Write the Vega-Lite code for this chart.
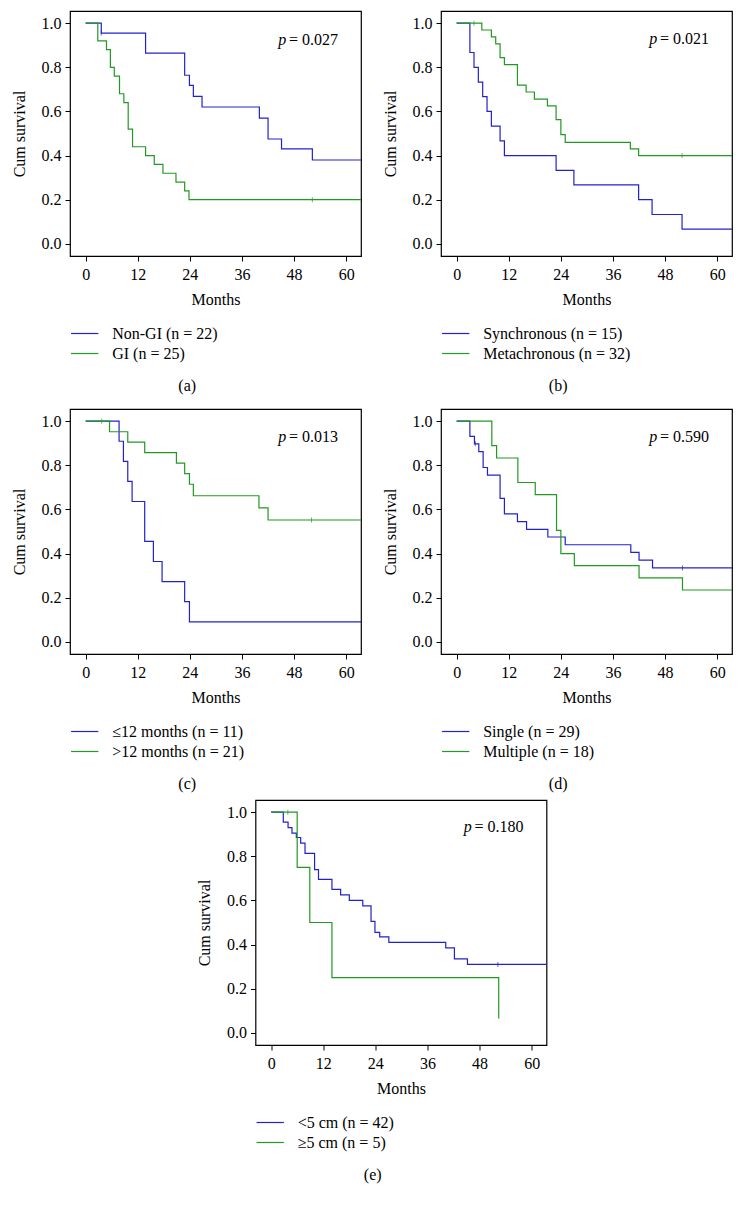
{
  "$schema": "https://vega.github.io/schema/vega-lite/v6.json",
  "padding": {"left": 10, "top": 10, "right": 0, "bottom": 0},
  "background": "white",
  "datasets": {
    "a": [
      {"g": "Non-GI (n = 22)", "t": 0, "s": 1}, {"g": "Non-GI (n = 22)", "t": 3.6, "s": 0.955}, {"g": "Non-GI (n = 22)", "t": 13.8, "s": 0.864}, {"g": "Non-GI (n = 22)", "t": 22.8, "s": 0.764}, {"g": "Non-GI (n = 22)", "t": 23.9, "s": 0.718}, {"g": "Non-GI (n = 22)", "t": 24.8, "s": 0.668}, {"g": "Non-GI (n = 22)", "t": 26.8, "s": 0.62}, {"g": "Non-GI (n = 22)", "t": 40, "s": 0.57}, {"g": "Non-GI (n = 22)", "t": 42, "s": 0.475}, {"g": "Non-GI (n = 22)", "t": 45.1, "s": 0.43}, {"g": "Non-GI (n = 22)", "t": 52.2, "s": 0.38}, {"g": "Non-GI (n = 22)", "t": 63.4, "s": 0.38},
      {"g": "GI (n = 25)", "t": 0, "s": 1}, {"g": "GI (n = 25)", "t": 2.8, "s": 0.92}, {"g": "GI (n = 25)", "t": 4.8, "s": 0.88}, {"g": "GI (n = 25)", "t": 5.7, "s": 0.8}, {"g": "GI (n = 25)", "t": 6.6, "s": 0.76}, {"g": "GI (n = 25)", "t": 7.8, "s": 0.68}, {"g": "GI (n = 25)", "t": 8.8, "s": 0.64}, {"g": "GI (n = 25)", "t": 9.8, "s": 0.52}, {"g": "GI (n = 25)", "t": 10.8, "s": 0.44}, {"g": "GI (n = 25)", "t": 13.8, "s": 0.4}, {"g": "GI (n = 25)", "t": 15.8, "s": 0.36}, {"g": "GI (n = 25)", "t": 17.8, "s": 0.32}, {"g": "GI (n = 25)", "t": 20.8, "s": 0.28}, {"g": "GI (n = 25)", "t": 22.8, "s": 0.24}, {"g": "GI (n = 25)", "t": 23.8, "s": 0.2}, {"g": "GI (n = 25)", "t": 63.4, "s": 0.2}
    ],
    "ac": [
      {"g": "Non-GI (n = 22)", "t": 3.6, "s": 0.955},
      {"g": "GI (n = 25)", "t": 52.2, "s": 0.2}
    ],
    "b": [
      {"g": "Synchronous (n = 15)", "t": 0, "s": 1}, {"g": "Synchronous (n = 15)", "t": 3.05, "s": 0.867}, {"g": "Synchronous (n = 15)", "t": 4, "s": 0.8}, {"g": "Synchronous (n = 15)", "t": 5, "s": 0.733}, {"g": "Synchronous (n = 15)", "t": 6, "s": 0.667}, {"g": "Synchronous (n = 15)", "t": 7, "s": 0.6}, {"g": "Synchronous (n = 15)", "t": 8, "s": 0.533}, {"g": "Synchronous (n = 15)", "t": 10, "s": 0.467}, {"g": "Synchronous (n = 15)", "t": 11, "s": 0.4}, {"g": "Synchronous (n = 15)", "t": 22.9, "s": 0.333}, {"g": "Synchronous (n = 15)", "t": 27, "s": 0.267}, {"g": "Synchronous (n = 15)", "t": 41.9, "s": 0.2}, {"g": "Synchronous (n = 15)", "t": 45, "s": 0.133}, {"g": "Synchronous (n = 15)", "t": 51.9, "s": 0.067}, {"g": "Synchronous (n = 15)", "t": 63.4, "s": 0.067},
      {"g": "Metachronous (n = 32)", "t": 0, "s": 1}, {"g": "Metachronous (n = 32)", "t": 5.8, "s": 0.969}, {"g": "Metachronous (n = 32)", "t": 8, "s": 0.938}, {"g": "Metachronous (n = 32)", "t": 9, "s": 0.906}, {"g": "Metachronous (n = 32)", "t": 10, "s": 0.844}, {"g": "Metachronous (n = 32)", "t": 11, "s": 0.8125}, {"g": "Metachronous (n = 32)", "t": 14, "s": 0.719}, {"g": "Metachronous (n = 32)", "t": 16, "s": 0.688}, {"g": "Metachronous (n = 32)", "t": 17.9, "s": 0.656}, {"g": "Metachronous (n = 32)", "t": 20.9, "s": 0.625}, {"g": "Metachronous (n = 32)", "t": 22.9, "s": 0.5625}, {"g": "Metachronous (n = 32)", "t": 24, "s": 0.495}, {"g": "Metachronous (n = 32)", "t": 25, "s": 0.46}, {"g": "Metachronous (n = 32)", "t": 40, "s": 0.43}, {"g": "Metachronous (n = 32)", "t": 41.9, "s": 0.4}, {"g": "Metachronous (n = 32)", "t": 63.4, "s": 0.4}
    ],
    "bc": [
      {"g": "Metachronous (n = 32)", "t": 4, "s": 1},
      {"g": "Metachronous (n = 32)", "t": 51.9, "s": 0.4}
    ],
    "c": [
      {"g": "≤12 months (n = 11)", "t": 0, "s": 1}, {"g": "≤12 months (n = 11)", "t": 7.7, "s": 0.909}, {"g": "≤12 months (n = 11)", "t": 8.7, "s": 0.818}, {"g": "≤12 months (n = 11)", "t": 9.7, "s": 0.727}, {"g": "≤12 months (n = 11)", "t": 10.7, "s": 0.636}, {"g": "≤12 months (n = 11)", "t": 13.6, "s": 0.455}, {"g": "≤12 months (n = 11)", "t": 15.6, "s": 0.364}, {"g": "≤12 months (n = 11)", "t": 17.6, "s": 0.273}, {"g": "≤12 months (n = 11)", "t": 22.8, "s": 0.182}, {"g": "≤12 months (n = 11)", "t": 23.9, "s": 0.091}, {"g": "≤12 months (n = 11)", "t": 63.4, "s": 0.091},
      {"g": ">12 months (n = 21)", "t": 0, "s": 1}, {"g": ">12 months (n = 21)", "t": 5.5, "s": 0.952}, {"g": ">12 months (n = 21)", "t": 9.7, "s": 0.905}, {"g": ">12 months (n = 21)", "t": 13.6, "s": 0.857}, {"g": ">12 months (n = 21)", "t": 20.9, "s": 0.81}, {"g": ">12 months (n = 21)", "t": 22.8, "s": 0.762}, {"g": ">12 months (n = 21)", "t": 23.9, "s": 0.714}, {"g": ">12 months (n = 21)", "t": 24.8, "s": 0.662}, {"g": ">12 months (n = 21)", "t": 39.9, "s": 0.607}, {"g": ">12 months (n = 21)", "t": 42, "s": 0.552}, {"g": ">12 months (n = 21)", "t": 63.4, "s": 0.552}
    ],
    "cc": [
      {"g": ">12 months (n = 21)", "t": 3.7, "s": 1},
      {"g": ">12 months (n = 21)", "t": 52, "s": 0.552}
    ],
    "d": [
      {"g": "Single (n = 29)", "t": 0, "s": 1}, {"g": "Single (n = 29)", "t": 3.05, "s": 0.931}, {"g": "Single (n = 29)", "t": 4.1, "s": 0.897}, {"g": "Single (n = 29)", "t": 5.1, "s": 0.862}, {"g": "Single (n = 29)", "t": 6.1, "s": 0.79}, {"g": "Single (n = 29)", "t": 7.1, "s": 0.755}, {"g": "Single (n = 29)", "t": 10, "s": 0.65}, {"g": "Single (n = 29)", "t": 11, "s": 0.58}, {"g": "Single (n = 29)", "t": 14, "s": 0.545}, {"g": "Single (n = 29)", "t": 16.1, "s": 0.51}, {"g": "Single (n = 29)", "t": 21, "s": 0.475}, {"g": "Single (n = 29)", "t": 25, "s": 0.44}, {"g": "Single (n = 29)", "t": 40.1, "s": 0.405}, {"g": "Single (n = 29)", "t": 42, "s": 0.37}, {"g": "Single (n = 29)", "t": 45.1, "s": 0.335}, {"g": "Single (n = 29)", "t": 63.4, "s": 0.335},
      {"g": "Multiple (n = 18)", "t": 0, "s": 1}, {"g": "Multiple (n = 18)", "t": 8.1, "s": 0.889}, {"g": "Multiple (n = 18)", "t": 9.2, "s": 0.833}, {"g": "Multiple (n = 18)", "t": 14.1, "s": 0.722}, {"g": "Multiple (n = 18)", "t": 18.1, "s": 0.667}, {"g": "Multiple (n = 18)", "t": 23, "s": 0.505}, {"g": "Multiple (n = 18)", "t": 24, "s": 0.4}, {"g": "Multiple (n = 18)", "t": 27.1, "s": 0.345}, {"g": "Multiple (n = 18)", "t": 42, "s": 0.29}, {"g": "Multiple (n = 18)", "t": 52, "s": 0.235}, {"g": "Multiple (n = 18)", "t": 63.4, "s": 0.235}
    ],
    "dc": [
      {"g": "Single (n = 29)", "t": 4.3, "s": 0.897},
      {"g": "Single (n = 29)", "t": 52, "s": 0.335}
    ],
    "e": [
      {"g": "<5 cm (n = 42)", "t": 0, "s": 1}, {"g": "<5 cm (n = 42)", "t": 2.8, "s": 0.955}, {"g": "<5 cm (n = 42)", "t": 3.9, "s": 0.93}, {"g": "<5 cm (n = 42)", "t": 4.8, "s": 0.905}, {"g": "<5 cm (n = 42)", "t": 5.8, "s": 0.885}, {"g": "<5 cm (n = 42)", "t": 6.8, "s": 0.86}, {"g": "<5 cm (n = 42)", "t": 7.8, "s": 0.813}, {"g": "<5 cm (n = 42)", "t": 10, "s": 0.74}, {"g": "<5 cm (n = 42)", "t": 10.9, "s": 0.695}, {"g": "<5 cm (n = 42)", "t": 14, "s": 0.65}, {"g": "<5 cm (n = 42)", "t": 16, "s": 0.625}, {"g": "<5 cm (n = 42)", "t": 18, "s": 0.6}, {"g": "<5 cm (n = 42)", "t": 21.1, "s": 0.575}, {"g": "<5 cm (n = 42)", "t": 23, "s": 0.505}, {"g": "<5 cm (n = 42)", "t": 23.9, "s": 0.455}, {"g": "<5 cm (n = 42)", "t": 25, "s": 0.435}, {"g": "<5 cm (n = 42)", "t": 27.1, "s": 0.41}, {"g": "<5 cm (n = 42)", "t": 40.2, "s": 0.385}, {"g": "<5 cm (n = 42)", "t": 42.2, "s": 0.335}, {"g": "<5 cm (n = 42)", "t": 45.2, "s": 0.31}, {"g": "<5 cm (n = 42)", "t": 63.4, "s": 0.31},
      {"g": "≥5 cm (n = 5)", "t": 0, "s": 1}, {"g": "≥5 cm (n = 5)", "t": 6, "s": 0.75}, {"g": "≥5 cm (n = 5)", "t": 8.9, "s": 0.5}, {"g": "≥5 cm (n = 5)", "t": 14, "s": 0.25}, {"g": "≥5 cm (n = 5)", "t": 52.4, "s": 0.065}
    ],
    "ec": [
      {"g": "≥5 cm (n = 5)", "t": 3.85, "s": 1},
      {"g": "<5 cm (n = 42)", "t": 52.2, "s": 0.31}
    ]
  },
  "config": {
    "font": "Liberation Serif",
    "view": {"stroke": "black", "strokeWidth": 1.2},
    "axis": {"domain": false, "grid": false, "ticks": true, "tickColor": "black", "tickSize": 5, "labelFont": "Liberation Serif", "labelFontSize": 16, "labelColor": "black", "titleFont": "Liberation Serif", "titleFontSize": 16, "titleFontWeight": "normal", "titleColor": "black"},
    "legend": {"orient": "none", "legendX": 3.2, "legendY": 311, "direction": "vertical", "symbolType": "M-1.3,0H1.3", "symbolSize": 441, "symbolStrokeWidth": 1.3, "labelFont": "Liberation Serif", "labelFontSize": 16, "labelColor": "black", "labelOffset": 16, "rowPadding": 0, "padding": 0, "title": null},
    "title": {"font": "Liberation Serif", "fontSize": 16, "fontWeight": "normal", "color": "black", "orient": "bottom", "anchor": "middle", "offset": 16, "frame": "bounds"},
    "line": {"interpolate": "step-after", "strokeWidth": 1.2},
    "tick": {"orient": "vertical", "size": 5, "thickness": 1},
    "text": {"font": "Liberation Serif", "fontSize": 16, "color": "black", "baseline": "middle"}
  },
  "vconcat": [
    {
      "vconcat": [
        {
          "hconcat": [
            {
              "width": 291, "height": 245, "title": "(a)",
              "layer": [
                {"data": {"name": "a"}, "mark": "line",
                 "encoding": {
                   "x": {"field": "t", "type": "quantitative", "scale": {"domain": [-3.6, 63.4], "nice": false, "zero": false}, "axis": {"values": [0, 12, 24, 36, 48, 60], "title": "Months", "labelPadding": 5, "titlePadding": 9}},
                   "y": {"field": "s", "type": "quantitative", "scale": {"domain": [-0.055, 1.055], "nice": false, "zero": false}, "axis": {"values": [0, 0.2, 0.4, 0.6, 0.8, 1], "format": ".1f", "title": "Cum survival", "labelPadding": 4, "titlePadding": 14}},
                   "color": {"field": "g", "type": "nominal", "scale": {"domain": ["Non-GI (n = 22)", "GI (n = 25)"], "range": ["#2222cc", "#229922"]}}}},
                {"data": {"name": "ac"}, "mark": "tick",
                 "encoding": {"x": {"field": "t", "type": "quantitative"}, "y": {"field": "s", "type": "quantitative"}, "color": {"field": "g", "type": "nominal"}}},
                {"data": {"values": [{}]}, "mark": {"type": "text", "text": "p", "fontStyle": "italic", "align": "right"},
                 "encoding": {"x": {"datum": 46.2}, "y": {"datum": 0.923}}},
                {"data": {"values": [{}]}, "mark": {"type": "text", "text": "= 0.027", "align": "left"},
                 "encoding": {"x": {"datum": 46.8}, "y": {"datum": 0.923}}}
              ]
            },
            {
              "width": 291, "height": 245, "title": "(b)",
              "layer": [
                {"data": {"name": "b"}, "mark": "line",
                 "encoding": {
                   "x": {"field": "t", "type": "quantitative", "scale": {"domain": [-3.6, 63.4], "nice": false, "zero": false}, "axis": {"values": [0, 12, 24, 36, 48, 60], "title": "Months", "labelPadding": 5, "titlePadding": 9}},
                   "y": {"field": "s", "type": "quantitative", "scale": {"domain": [-0.055, 1.055], "nice": false, "zero": false}, "axis": {"values": [0, 0.2, 0.4, 0.6, 0.8, 1], "format": ".1f", "title": "Cum survival", "labelPadding": 4, "titlePadding": 14}},
                   "color": {"field": "g", "type": "nominal", "scale": {"domain": ["Synchronous (n = 15)", "Metachronous (n = 32)"], "range": ["#2222cc", "#229922"]}}}},
                {"data": {"name": "bc"}, "mark": "tick",
                 "encoding": {"x": {"field": "t", "type": "quantitative"}, "y": {"field": "s", "type": "quantitative"}, "color": {"field": "g", "type": "nominal"}}},
                {"data": {"values": [{}]}, "mark": {"type": "text", "text": "p", "fontStyle": "italic", "align": "right"},
                 "encoding": {"x": {"datum": 46.2}, "y": {"datum": 0.93}}},
                {"data": {"values": [{}]}, "mark": {"type": "text", "text": "= 0.021", "align": "left"},
                 "encoding": {"x": {"datum": 46.8}, "y": {"datum": 0.93}}}
              ]
            }
          ],
          "spacing": 80, "bounds": "flush",
          "resolve": {"scale": {"color": "independent", "x": "independent", "y": "independent"}, "legend": {"color": "independent"}}
        },
        {
          "hconcat": [
            {
              "width": 291, "height": 245, "title": "(c)",
              "layer": [
                {"data": {"name": "c"}, "mark": "line",
                 "encoding": {
                   "x": {"field": "t", "type": "quantitative", "scale": {"domain": [-3.6, 63.4], "nice": false, "zero": false}, "axis": {"values": [0, 12, 24, 36, 48, 60], "title": "Months", "labelPadding": 5, "titlePadding": 9}},
                   "y": {"field": "s", "type": "quantitative", "scale": {"domain": [-0.055, 1.055], "nice": false, "zero": false}, "axis": {"values": [0, 0.2, 0.4, 0.6, 0.8, 1], "format": ".1f", "title": "Cum survival", "labelPadding": 4, "titlePadding": 14}},
                   "color": {"field": "g", "type": "nominal", "scale": {"domain": ["≤12 months (n = 11)", ">12 months (n = 21)"], "range": ["#2222cc", "#229922"]}}}},
                {"data": {"name": "cc"}, "mark": "tick",
                 "encoding": {"x": {"field": "t", "type": "quantitative"}, "y": {"field": "s", "type": "quantitative"}, "color": {"field": "g", "type": "nominal"}}},
                {"data": {"values": [{}]}, "mark": {"type": "text", "text": "p", "fontStyle": "italic", "align": "right"},
                 "encoding": {"x": {"datum": 46.2}, "y": {"datum": 0.93}}},
                {"data": {"values": [{}]}, "mark": {"type": "text", "text": "= 0.013", "align": "left"},
                 "encoding": {"x": {"datum": 46.8}, "y": {"datum": 0.93}}}
              ]
            },
            {
              "width": 291, "height": 245, "title": "(d)",
              "layer": [
                {"data": {"name": "d"}, "mark": "line",
                 "encoding": {
                   "x": {"field": "t", "type": "quantitative", "scale": {"domain": [-3.6, 63.4], "nice": false, "zero": false}, "axis": {"values": [0, 12, 24, 36, 48, 60], "title": "Months", "labelPadding": 5, "titlePadding": 9}},
                   "y": {"field": "s", "type": "quantitative", "scale": {"domain": [-0.055, 1.055], "nice": false, "zero": false}, "axis": {"values": [0, 0.2, 0.4, 0.6, 0.8, 1], "format": ".1f", "title": "Cum survival", "labelPadding": 4, "titlePadding": 14}},
                   "color": {"field": "g", "type": "nominal", "scale": {"domain": ["Single (n = 29)", "Multiple (n = 18)"], "range": ["#2222cc", "#229922"]}}}},
                {"data": {"name": "dc"}, "mark": "tick",
                 "encoding": {"x": {"field": "t", "type": "quantitative"}, "y": {"field": "s", "type": "quantitative"}, "color": {"field": "g", "type": "nominal"}}},
                {"data": {"values": [{}]}, "mark": {"type": "text", "text": "p", "fontStyle": "italic", "align": "right"},
                 "encoding": {"x": {"datum": 46.2}, "y": {"datum": 0.93}}},
                {"data": {"values": [{}]}, "mark": {"type": "text", "text": "= 0.590", "align": "left"},
                 "encoding": {"x": {"datum": 46.8}, "y": {"datum": 0.93}}}
              ]
            }
          ],
          "spacing": 80, "bounds": "flush",
          "resolve": {"scale": {"color": "independent", "x": "independent", "y": "independent"}, "legend": {"color": "independent"}}
        }
      ],
      "spacing": 13,
      "resolve": {"scale": {"color": "independent", "x": "independent", "y": "independent"}, "legend": {"color": "independent"}}
    },
    {
      "width": 291, "height": 245, "title": "(e)",
      "layer": [
        {"data": {"name": "e"}, "mark": "line",
         "encoding": {
           "x": {"field": "t", "type": "quantitative", "scale": {"domain": [-3.6, 63.4], "nice": false, "zero": false}, "axis": {"values": [0, 12, 24, 36, 48, 60], "title": "Months", "labelPadding": 5, "titlePadding": 9}},
           "y": {"field": "s", "type": "quantitative", "scale": {"domain": [-0.055, 1.055], "nice": false, "zero": false}, "axis": {"values": [0, 0.2, 0.4, 0.6, 0.8, 1], "format": ".1f", "title": "Cum survival", "labelPadding": 4, "titlePadding": 14}},
           "color": {"field": "g", "type": "nominal", "scale": {"domain": ["<5 cm (n = 42)", "≥5 cm (n = 5)"], "range": ["#2222cc", "#229922"]}}}},
        {"data": {"name": "ec"}, "mark": "tick",
         "encoding": {"x": {"field": "t", "type": "quantitative"}, "y": {"field": "s", "type": "quantitative"}, "color": {"field": "g", "type": "nominal"}}},
        {"data": {"values": [{}]}, "mark": {"type": "text", "text": "p", "fontStyle": "italic", "align": "right"},
         "encoding": {"x": {"datum": 46.2}, "y": {"datum": 0.932}}},
        {"data": {"values": [{}]}, "mark": {"type": "text", "text": "= 0.180", "align": "left"},
         "encoding": {"x": {"datum": 46.8}, "y": {"datum": 0.932}}}
      ]
    }
  ],
  "spacing": 6, "center": true,
  "resolve": {"scale": {"color": "independent", "x": "independent", "y": "independent"}, "legend": {"color": "independent"}}
}
